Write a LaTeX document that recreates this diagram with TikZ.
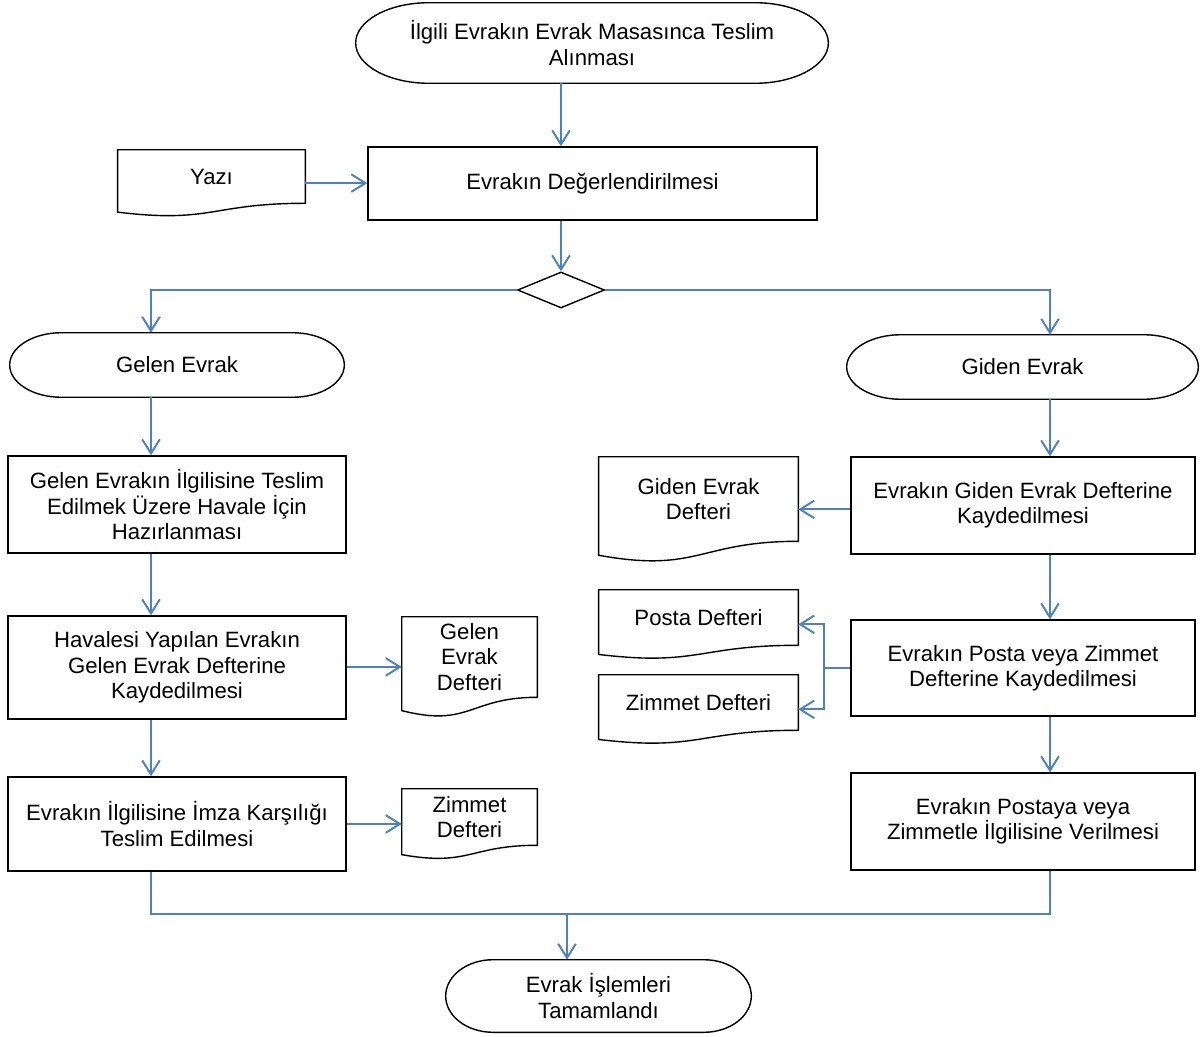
\documentclass[tikz,border=0pt]{standalone}
\usepackage{fontspec}
\setmainfont{Liberation Sans}
\usetikzlibrary{arrows.meta,calc,shapes.geometric}
\definecolor{flowblue}{RGB}{79,129,189}

\tikzset{
	outline/.style={draw=black, line width=1pt},
	flow/.style={draw=flowblue, line width=1.4pt, -{Straight Barb[length=10pt,width=12.5pt]}},
	link/.style={draw=flowblue, line width=1.4pt},
	process/.style={outline, inner sep=0pt, align=center},
	docbox/.style={inner sep=0pt, align=center},
	termbox/.style={inner sep=0pt, align=center},
	decision/.style={outline, diamond, inner sep=0pt},
}

% document outline with wavy bottom, plus its side connection points
\newcommand\docline[1]{%
	\draw[outline] ($(#1.south west)!-0.165!(#1.north west)$) -- (#1.north west) -- (#1.north east) -- (#1.south east)
		.. controls (#1.south) and ($(#1.south)!-0.380!(#1.north)$) .. ($(#1.south west)!-0.165!(#1.north west)$) -- cycle;
	\coordinate (#1-e) at ($(#1.north east)!0.623!(#1.south east)$);
	\coordinate (#1-w) at ($(#1.north west)!0.623!(#1.south west)$);
}

% terminator outline with elliptic ends
\newcommand\termline[1]{%
	\draw[outline] let \p1=(#1.north west), \p2=(#1.south east), \n1={0.155*(\x2-\x1)}, \n2={0.5*(\y1-\y2)} in
		(\x1+\n1,\y1) -- (\x2-\n1,\y1) arc[start angle=90, end angle=-90, x radius=\n1, y radius=\n2]
		-- (\x1+\n1,\y2) arc[start angle=270, end angle=90, x radius=\n1, y radius=\n2] -- cycle;
}

\begin{document}
\begin{tikzpicture}[x=0.025cm, y=-0.025cm, font=\fontsize{15.75}{18.1}\selectfont]
	\useasboundingbox (0,0) rectangle (1203,1037);

	% top
	\node[termbox, minimum width=11.8cm, minimum height=2cm] (start) at (592,43) {İlgili Evrakın Evrak Masasınca Teslim\\Alınması};
	\termline{start}
	\node[process, minimum width=11.225cm, minimum height=1.825cm] (eval) at (592.5,183.5) {Evrakın Değerlendirilmesi};
	\node[docbox, minimum width=4.675cm, minimum height=1.325cm] (yazi) at (211.5,176.5) {Yazı};
	\docline{yazi}
	\node[decision, minimum width=2.175cm, minimum height=0.9cm] (dec) at (561,290) {};

	\coordinate (lx) at (151,0);
	\coordinate (rx) at (1050,0);
	\coordinate (br) at (824,0);
	\coordinate (join) at (567,914);

	% left column
	\node[termbox, minimum width=8.35cm, minimum height=1.6cm] (gelen) at (177,365) {Gelen Evrak};
	\termline{gelen}
	\node[process, minimum width=8.45cm, minimum height=2.425cm] (hazir) at (177,504.5) {Gelen Evrakın İlgilisine Teslim\\Edilmek Üzere Havale İçin\\Hazırlanması};
	\node[process, minimum width=8.45cm, minimum height=2.575cm] (havale) at (177,667.5) {Havalesi Yapılan Evrakın\\Gelen Evrak Defterine\\Kaydedilmesi};
	\node[process, minimum width=8.45cm, minimum height=2.35cm] (imza) at (177,824) {Evrakın İlgilisine İmza Karşılığı\\Teslim Edilmesi};
	\node[docbox, minimum width=3.375cm, minimum height=2cm] (gdef) at (469.5,657) {Gelen\\Evrak\\Defteri};
	\docline{gdef}
	\node[docbox, minimum width=3.375cm, minimum height=1.4cm] (zdefl) at (469.5,817) {Zimmet\\Defteri};
	\docline{zdefl}

	% right column
	\node[termbox, minimum width=8.775cm, minimum height=1.6cm] (giden) at (1022.5,367) {Giden Evrak};
	\termline{giden}
	\node[process, minimum width=8.6cm, minimum height=2.425cm] (kayit) at (1023,505.5) {Evrakın Giden Evrak Defterine\\Kaydedilmesi};
	\node[process, minimum width=8.6cm, minimum height=2.4cm] (postzim) at (1023,668) {Evrakın Posta veya Zimmet\\Defterine Kaydedilmesi};
	\node[process, minimum width=8.6cm, minimum height=2.425cm] (verme) at (1023,821.5) {Evrakın Postaya veya\\Zimmetle İlgilisine Verilmesi};
	\node[docbox, minimum width=4.975cm, minimum height=2.1cm] (gidef) at (698.5,499) {Giden Evrak\\Defteri};
	\docline{gidef}
	\node[docbox, minimum width=4.975cm, minimum height=1.375cm] (pdef) at (698.5,617.5) {Posta Defteri};
	\docline{pdef}
	\node[docbox, minimum width=4.975cm, minimum height=1.375cm] (zdefr) at (698.5,702.5) {Zimmet Defteri};
	\docline{zdefr}

	% end
	\node[termbox, minimum width=7.625cm, minimum height=1.8cm] (finish) at (598.5,996) {Evrak İşlemleri\\Tamamlandı};
	\termline{finish}

	% connectors
	\draw[flow] (start.south -| dec) -- (eval.north -| dec);
	\draw[flow] (yazi-e) -- (yazi-e -| eval.west);
	\draw[flow] (eval.south -| dec) -- (dec.north);
	\draw[flow] (dec.west) -| (gelen.north -| lx);
	\draw[flow] (dec.east) -| (giden.north -| rx);

	\draw[flow] (gelen.south -| lx) -- (hazir.north -| lx);
	\draw[flow] (hazir.south -| lx) -- (havale.north -| lx);
	\draw[flow] (havale.south -| lx) -- (imza.north -| lx);
	\draw[flow] (havale.east |- gdef-w) -- (gdef-w);
	\draw[flow] (imza.east |- zdefl-w) -- (zdefl-w);

	\draw[flow] (giden.south -| rx) -- (kayit.north -| rx);
	\draw[flow] (kayit.south -| rx) -- (postzim.north -| rx);
	\draw[flow] (postzim.south -| rx) -- (verme.north -| rx);
	\draw[flow] (kayit.west |- gidef-e) -- (gidef-e);
	\draw[flow] (postzim.west) -- (postzim.west -| br) |- (pdef-e);
	\draw[flow] (postzim.west -| br) |- (zdefr-e);

	\draw[link] (imza.south -| lx) |- (join) -| (verme.south -| rx);
	\draw[flow] (join) -- (finish.north -| join);
\end{tikzpicture}
\end{document}
